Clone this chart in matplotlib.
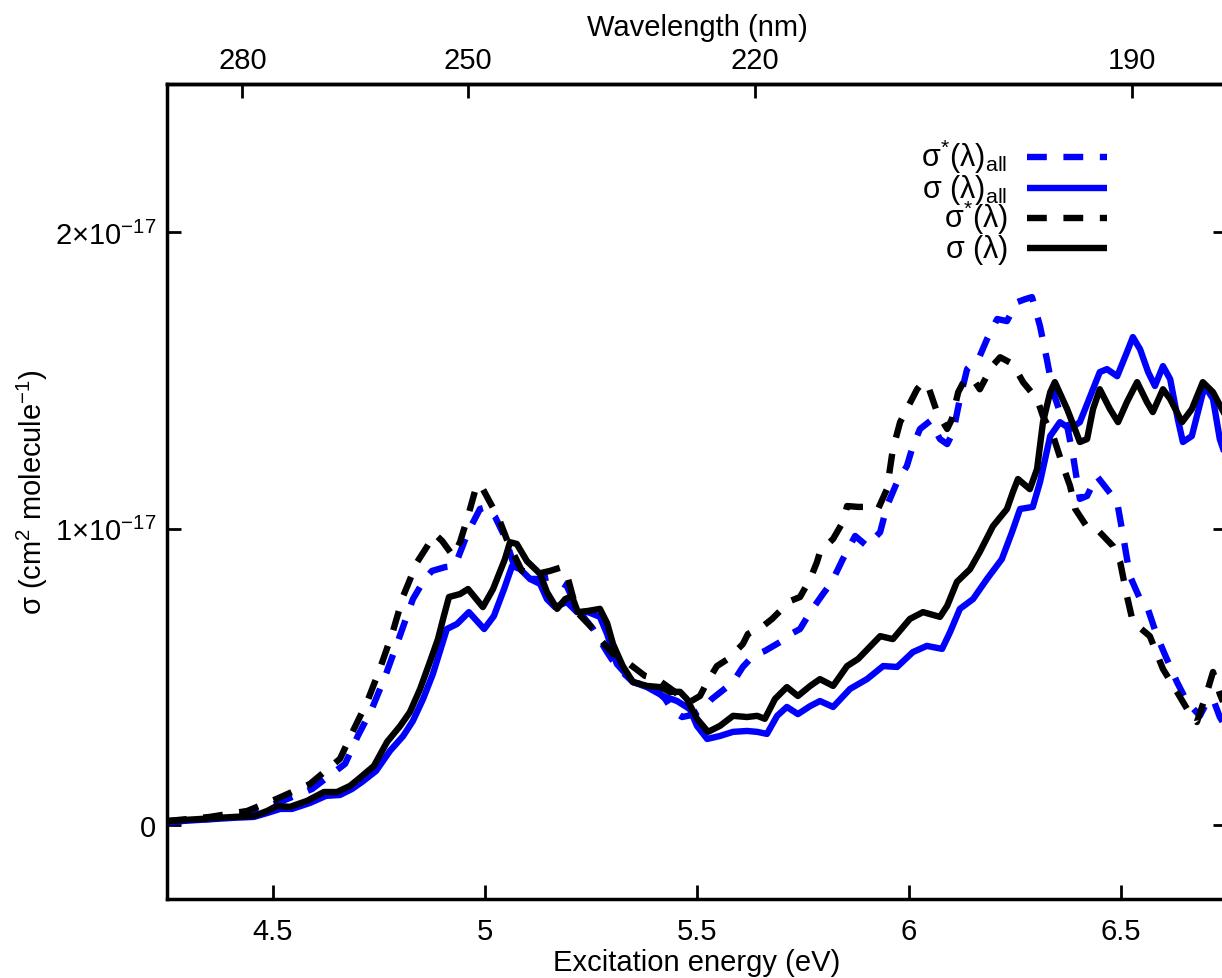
import numpy as np
import matplotlib
matplotlib.use("Agg")
import matplotlib.pyplot as plt
from matplotlib import font_manager
from matplotlib.ticker import FuncFormatter, FixedLocator

# ---------------- data (energy in eV, cross sections in units of 1e-17 cm^2) -------------
SCALE = 1e-17

e_sig = [4.250, 4.328, 4.408, 4.455, 4.486, 4.509, 4.540, 4.580, 4.620, 4.651, 4.682, 4.705,
         4.738, 4.769, 4.800, 4.823, 4.847, 4.870, 4.889, 4.903, 4.915, 4.941, 4.960, 4.995,
         5.019, 5.047, 5.059, 5.075, 5.099, 5.130, 5.146, 5.170, 5.189, 5.205, 5.219, 5.243,
         5.271, 5.288, 5.302, 5.325, 5.349, 5.382, 5.413, 5.436, 5.460, 5.476, 5.500, 5.526,
         5.554, 5.585, 5.618, 5.642, 5.660, 5.684, 5.712, 5.738, 5.767, 5.790, 5.821, 5.854,
         5.880, 5.932, 5.962, 6.002, 6.033, 6.073, 6.090, 6.113, 6.144, 6.167, 6.198, 6.231,
         6.245, 6.257, 6.285, 6.302, 6.316, 6.333, 6.344, 6.373, 6.403, 6.420, 6.434, 6.450,
         6.474, 6.493, 6.514, 6.538, 6.561, 6.575, 6.599, 6.616, 6.644, 6.667, 6.693, 6.717,
         6.738, 6.757]
sig = [0.013, 0.020, 0.027, 0.030, 0.047, 0.064, 0.061, 0.081, 0.111, 0.111, 0.132, 0.159,
       0.199, 0.280, 0.334, 0.381, 0.459, 0.550, 0.627, 0.705, 0.769, 0.779, 0.796, 0.735,
       0.796, 0.897, 0.954, 0.948, 0.890, 0.847, 0.786, 0.729, 0.762, 0.772, 0.718, 0.722,
       0.729, 0.681, 0.610, 0.536, 0.482, 0.469, 0.465, 0.449, 0.449, 0.425, 0.358, 0.314,
       0.334, 0.368, 0.364, 0.368, 0.358, 0.425, 0.465, 0.435, 0.469, 0.492, 0.469, 0.536,
       0.560, 0.637, 0.627, 0.695, 0.718, 0.702, 0.739, 0.820, 0.863, 0.921, 1.008, 1.066,
       1.123, 1.167, 1.133, 1.201, 1.359, 1.460, 1.494, 1.403, 1.292, 1.302, 1.403, 1.470,
       1.403, 1.359, 1.427, 1.494, 1.427, 1.393, 1.470, 1.437, 1.359, 1.403, 1.494, 1.460,
       1.403, 1.352]

e_sig_all = [4.250, 4.328, 4.408, 4.455, 4.486, 4.517, 4.545, 4.587, 4.625, 4.658, 4.686, 4.710,
             4.743, 4.776, 4.807, 4.830, 4.854, 4.877, 4.894, 4.910, 4.934, 4.962, 4.998, 5.021,
             5.045, 5.064, 5.083, 5.106, 5.130, 5.146, 5.165, 5.193, 5.217, 5.243, 5.271, 5.288,
             5.311, 5.349, 5.382, 5.420, 5.453, 5.483, 5.500, 5.524, 5.554, 5.585, 5.618, 5.642,
             5.665, 5.689, 5.712, 5.738, 5.767, 5.790, 5.821, 5.861, 5.901, 5.939, 5.972, 6.009,
             6.042, 6.078, 6.097, 6.120, 6.151, 6.184, 6.219, 6.243, 6.262, 6.292, 6.309, 6.333,
             6.356, 6.380, 6.403, 6.422, 6.450, 6.467, 6.491, 6.514, 6.528, 6.545, 6.564, 6.580,
             6.599, 6.616, 6.634, 6.646, 6.667, 6.691, 6.698, 6.717, 6.733, 6.757]
sig_all = [0.010, 0.017, 0.024, 0.027, 0.040, 0.054, 0.054, 0.074, 0.098, 0.101, 0.121, 0.145,
           0.182, 0.250, 0.300, 0.351, 0.425, 0.509, 0.587, 0.661, 0.678, 0.718, 0.661, 0.705,
           0.796, 0.874, 0.863, 0.830, 0.813, 0.762, 0.735, 0.752, 0.718, 0.718, 0.702, 0.644,
           0.543, 0.482, 0.465, 0.435, 0.418, 0.391, 0.334, 0.290, 0.300, 0.314, 0.317, 0.314,
           0.307, 0.368, 0.398, 0.374, 0.401, 0.418, 0.398, 0.459, 0.492, 0.536, 0.533, 0.583,
           0.604, 0.594, 0.651, 0.729, 0.762, 0.830, 0.897, 0.988, 1.066, 1.073, 1.157, 1.312,
           1.359, 1.336, 1.359, 1.427, 1.528, 1.538, 1.514, 1.595, 1.646, 1.605, 1.528, 1.481,
           1.548, 1.504, 1.369, 1.292, 1.312, 1.447, 1.481, 1.437, 1.302, 1.201]

e_sigstar = [4.250, 4.351, 4.439, 4.509, 4.587, 4.658, 4.691, 4.722, 4.752, 4.783, 4.807, 4.840,
             4.882, 4.899, 4.925, 4.941, 4.960, 4.981, 4.995, 5.024, 5.035, 5.054, 5.087, 5.123,
             5.153, 5.182, 5.196, 5.217, 5.255, 5.271, 5.302, 5.325, 5.377, 5.406, 5.448, 5.465,
             5.483, 5.507, 5.524, 5.547, 5.573, 5.608, 5.620, 5.656, 5.677, 5.719, 5.743, 5.767,
             5.783, 5.790, 5.821, 5.844, 5.854, 5.880, 5.908, 5.927, 5.948, 5.962, 5.979, 5.995,
             6.019, 6.033, 6.045, 6.066, 6.090, 6.101, 6.116, 6.132, 6.151, 6.167, 6.196, 6.215,
             6.245, 6.269, 6.302, 6.316, 6.340, 6.363, 6.380, 6.392, 6.420, 6.443, 6.481, 6.498,
             6.514, 6.528, 6.568, 6.599, 6.632, 6.656, 6.679, 6.703, 6.717, 6.733, 6.757]
sigstar = [0.013, 0.027, 0.047, 0.088, 0.138, 0.223, 0.324, 0.415, 0.526, 0.654, 0.772, 0.887,
           0.981, 0.958, 0.907, 0.954, 1.042, 1.150, 1.133, 1.056, 1.025, 0.954, 0.857, 0.847,
           0.857, 0.870, 0.830, 0.718, 0.661, 0.627, 0.577, 0.560, 0.503, 0.492, 0.449, 0.425,
           0.415, 0.435, 0.482, 0.536, 0.560, 0.610, 0.644, 0.671, 0.695, 0.755, 0.769, 0.830,
           0.887, 0.921, 0.965, 1.022, 1.076, 1.073, 1.073, 1.066, 1.133, 1.268, 1.359, 1.403,
           1.470, 1.494, 1.481, 1.393, 1.336, 1.369, 1.460, 1.504, 1.504, 1.470, 1.548, 1.578,
           1.555, 1.494, 1.437, 1.379, 1.312, 1.211, 1.143, 1.066, 1.005, 0.998, 0.941, 0.887,
           0.772, 0.685, 0.637, 0.526, 0.449, 0.391, 0.347, 0.449, 0.516, 0.442, 0.358]

e_sigstar_all = [4.250, 4.351, 4.446, 4.517, 4.592, 4.670, 4.700, 4.733, 4.764, 4.795, 4.830, 4.858,
                 4.875, 4.906, 4.929, 4.960, 4.988, 5.005, 5.024, 5.047, 5.066, 5.099, 5.130, 5.153,
                 5.177, 5.193, 5.217, 5.255, 5.288, 5.311, 5.349, 5.396, 5.425, 5.443, 5.465, 5.488,
                 5.514, 5.535, 5.559, 5.585, 5.608, 5.632, 5.660, 5.696, 5.712, 5.743, 5.767, 5.797,
                 5.818, 5.844, 5.873, 5.901, 5.932, 5.948, 5.972, 5.995, 6.009, 6.026, 6.050, 6.073,
                 6.090, 6.104, 6.120, 6.137, 6.167, 6.184, 6.208, 6.231, 6.255, 6.274, 6.290, 6.309,
                 6.325, 6.340, 6.356, 6.373, 6.387, 6.403, 6.420, 6.443, 6.467, 6.491, 6.505, 6.521,
                 6.545, 6.561, 6.585, 6.608, 6.632, 6.656, 6.686, 6.703, 6.717, 6.733, 6.757]
sigstar_all = [0.010, 0.020, 0.037, 0.078, 0.121, 0.206, 0.300, 0.391, 0.499, 0.621, 0.762, 0.830,
               0.857, 0.870, 0.874, 0.988, 1.066, 1.073, 1.039, 0.971, 0.887, 0.830, 0.830, 0.836,
               0.820, 0.806, 0.729, 0.661, 0.583, 0.533, 0.482, 0.465, 0.425, 0.384, 0.364, 0.371,
               0.391, 0.425, 0.452, 0.482, 0.533, 0.570, 0.587, 0.617, 0.637, 0.661, 0.718, 0.779,
               0.820, 0.897, 0.975, 0.941, 0.988, 1.076, 1.157, 1.211, 1.278, 1.336, 1.363, 1.302,
               1.285, 1.325, 1.437, 1.538, 1.582, 1.639, 1.707, 1.700, 1.764, 1.774, 1.781, 1.683,
               1.572, 1.460, 1.393, 1.346, 1.245, 1.100, 1.110, 1.177, 1.133, 1.089, 0.975, 0.840,
               0.762, 0.739, 0.637, 0.560, 0.482, 0.415, 0.368, 0.415, 0.425, 0.364, 0.307]

wl_ticks = [280, 250, 220, 190]
y_ticks = [0, 1, 2]

labels = [r"$\mathrm{σ^{*}(λ)_{all}}$", r"$\mathrm{σ\ (λ)_{all}}$",
          r"$\mathrm{σ^{*}(λ)}$", r"$\mathrm{σ\ (λ)}$"]

# ---------------- fonts -----------------------------------------------------------------
names = {f.name for f in font_manager.fontManager.ttflist}
fam = "Liberation Sans Narrow" if "Liberation Sans Narrow" in names else "Liberation Sans"
plt.rcParams["font.family"] = [fam, "DejaVu Sans"]
plt.rcParams["mathtext.fontset"] = "custom"
plt.rcParams["mathtext.rm"] = fam
plt.rcParams["mathtext.it"] = fam
plt.rcParams["mathtext.bf"] = fam
plt.rcParams["mathtext.sf"] = fam
FS = 21
FS_KEY = 22

# ---------------- figure ----------------------------------------------------------------
fig = plt.figure(figsize=(12.22, 9.79), dpi=100)
ax = fig.add_axes([167 / 1222, 79 / 979, 1060 / 1222, 815 / 979])

LW = 4.6
dash = (3.1, 2.6)
BLUE = "#0000ff"

l1, = ax.plot(e_sigstar_all, np.array(sigstar_all) * SCALE, color=BLUE, lw=LW,
              dashes=dash, dash_capstyle="butt")
l2, = ax.plot(e_sig_all, np.array(sig_all) * SCALE, color=BLUE, lw=LW, solid_joinstyle="round")
l3, = ax.plot(e_sigstar, np.array(sigstar) * SCALE, color="black", lw=LW,
              dashes=dash, dash_capstyle="butt")
l4, = ax.plot(e_sig, np.array(sig) * SCALE, color="black", lw=LW, solid_joinstyle="round")

ax.set_xlim(4.25, 6.75)
ax.set_ylim(-0.25 * SCALE, 2.5 * SCALE)

ax.set_xticks([4.5, 5.0, 5.5, 6.0, 6.5])
ax.xaxis.set_major_formatter(FuncFormatter(lambda v, p: f"{v:g}"))
ax.yaxis.set_major_locator(FixedLocator([v * SCALE for v in y_ticks]))


def yfmt(v, p):
    n = int(round(v / SCALE))
    if n == 0:
        return "0"
    return r"$\mathrm{%d{\times}10^{-17}}$" % n


ax.yaxis.set_major_formatter(FuncFormatter(yfmt))
ax.tick_params(axis="both", which="major", direction="in", length=10, width=2,
               labelsize=FS, colors="black")
ax.tick_params(axis="x", pad=13, top=False)
ax.tick_params(axis="y", pad=8, right=True)
ax.minorticks_off()
for s in ax.spines.values():
    s.set_linewidth(2.5)

ax.set_xlabel("Excitation energy (eV)", fontsize=FS, labelpad=2)
ax.set_ylabel(r"$\mathrm{σ\ (cm^{2}\ molecule^{-1})}$", fontsize=FS, labelpad=3)


def ev2nm(e):
    e = np.asarray(e, dtype=float)
    with np.errstate(divide="ignore", invalid="ignore"):
        return 1239.84 / e


secax = ax.secondary_xaxis("top", functions=(ev2nm, ev2nm))
secax.set_xticks(wl_ticks)
secax.xaxis.set_major_formatter(FuncFormatter(lambda v, p: f"{v:g}"))
secax.tick_params(direction="in", length=10, width=2, labelsize=FS, pad=7)
secax.minorticks_off()
secax.set_xlabel("Wavelength (nm)", fontsize=FS, labelpad=8)
secax.spines["top"].set_linewidth(2.5)

# ---------------- key (gnuplot style: text right-aligned, sample to its right) ------------
handles = [l1, l2, l3, l4]
row_y = [0.910, 0.872, 0.836, 0.799]
for h, lab, yy in zip(handles, labels, row_y):
    kw = dict(transform=ax.transAxes, color=h.get_color(), lw=LW, clip_on=False)
    if h.get_linestyle() == "-":
        ax.plot([0.811, 0.887], [yy, yy], solid_capstyle="butt", **kw)
    else:
        ax.plot([0.811, 0.887], [yy, yy], dashes=dash, dash_capstyle="butt", **kw)
    ax.text(0.793, yy - 0.011, lab, transform=ax.transAxes, ha="right", va="baseline",
            fontsize=FS_KEY)

fig.savefig("out.png", dpi=100)
